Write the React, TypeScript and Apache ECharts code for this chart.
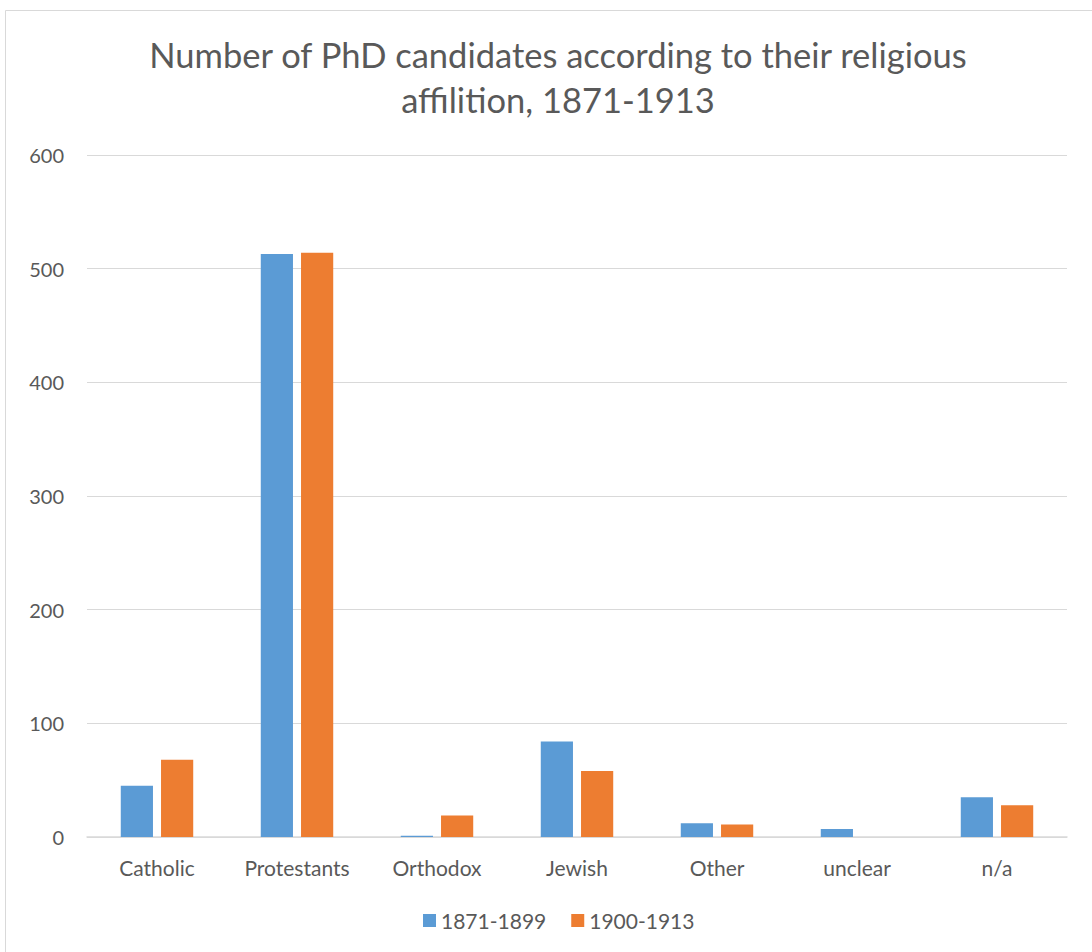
import React, { useEffect, useRef } from "react";
import * as echarts from "echarts";

const categories = ["Catholic", "Protestants", "Orthodox", "Jewish", "Other", "unclear", "n/a"];
const series1871 = [45, 513, 1, 84, 12, 7, 35];
const series1900 = [68, 514, 19, 58, 11, 0, 28];
const seriesNames = ["1871-1899", "1900-1913"];
const titleText = "Number of PhD candidates according to their religious\naffilition, 1871-1913";

export default function App() {
  const ref = useRef<HTMLDivElement>(null);
  useEffect(() => {
    if (!ref.current) return;
    const chart = echarts.init(ref.current, null, { renderer: "svg" });
    const font = "Lato, 'Open Sans', sans-serif";
    chart.setOption({
      animation: false,
      backgroundColor: "#ffffff",
      textStyle: { fontFamily: font },
      title: {
        text: titleText,
        left: 553,
        top: 27,
        textAlign: "center",
        textStyle: { fontSize: 34.5, fontWeight: "normal", color: "#595959", lineHeight: 45, fontFamily: font, align: "center" },
      },
      graphic: [
        {
          type: "rect",
          shape: { x: 5.5, y: 10.5, width: 1100, height: 1000 },
          style: { fill: "none", stroke: "#d9d9d9", lineWidth: 1 },
          silent: true,
        },
      ],
      legend: {
        bottom: 16,
        left: 418,
        itemWidth: 13,
        itemHeight: 13,
        itemGap: 25,
        icon: "rect",
        textStyle: { fontSize: 21, color: "#595959", fontFamily: font },
        data: seriesNames,
      },
      grid: { left: 87, right: 25, top: 155, bottom: 115 },
      xAxis: {
        type: "category",
        data: categories,
        axisLine: { lineStyle: { color: "#d9d9d9", width: 1.5 } },
        axisTick: { show: false },
        axisLabel: { fontSize: 21, color: "#595959", margin: 20, fontFamily: font },
      },
      yAxis: {
        type: "value",
        min: 0,
        max: 600,
        interval: 100,
        axisLine: { show: false },
        axisTick: { show: false },
        splitLine: { lineStyle: { color: "#d9d9d9", width: 1 } },
        axisLabel: { fontSize: 20, color: "#595959", margin: 23, fontFamily: font },
      },
      series: [
        {
          name: seriesNames[0],
          type: "bar",
          data: series1871,
          barWidth: "23%",
          barGap: "25%",
          itemStyle: { color: "#5b9bd5" },
        },
        {
          name: seriesNames[1],
          type: "bar",
          data: series1900,
          barWidth: "23%",
          barGap: "25%",
          itemStyle: { color: "#ed7d31" },
        },
      ],
    });
    return () => chart.dispose();
  }, []);
  return (
    <div
      ref={ref}
      style={{ position: "absolute", left: 0, top: 0, width: 1092, height: 952 }}
    />
  );
}
